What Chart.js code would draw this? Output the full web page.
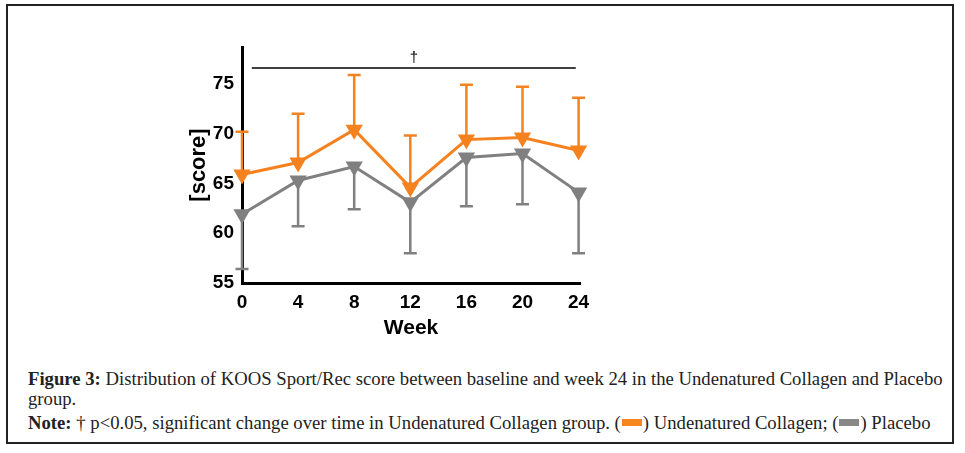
<!DOCTYPE html>
<html>
<head>
<meta charset="utf-8">
<script src="https://cdn.jsdelivr.net/npm/chart.js@4.4.1/dist/chart.umd.min.js"></script>
<style>
  html, body { margin: 0; padding: 0; background: #fff; }
  body { width: 965px; height: 453px; position: relative; overflow: hidden; }
  #frame { position: absolute; left: 6px; top: 4px; width: 948px; height: 440px; border: 2px solid #222; box-sizing: border-box; }
  #wrap { position: absolute; left: 0; top: 0; width: 965px; height: 360px; }
  .cap { position: absolute; left: 28px; font-family: "Liberation Serif", "DejaVu Serif", serif; font-size: 18.7px; color: #222; white-space: nowrap; line-height: 1; }
  .sw { display: inline-block; width: 20px; height: 7px; vertical-align: 3px; margin: 0 1px; }
</style>
</head>
<body>
<div id="frame"></div>
<div id="wrap"><canvas id="c" width="965" height="360"></canvas></div>
<div class="cap" id="l1" style="top:370px"><b>Figure 3:</b> Distribution of KOOS Sport/Rec score between baseline and week 24 in the Undenatured Collagen and Placebo</div>
<div class="cap" id="l2" style="top:390px">group.</div>
<div class="cap" id="l3" style="top:414px"><b>Note:</b> † p&lt;0.05, significant change over time in Undenatured Collagen group. (<span class="sw" style="background:#F7861E"></span>) Undenatured Collagen; (<span class="sw" style="background:#888"></span>) Placebo</div>
<script>
const weeks = [0, 4, 8, 12, 16, 20, 24];
const collagenMean = [65.9, 67.1, 70.4, 64.6, 69.4, 69.6, 68.3];
const collagenUpper = [70.2, 72.0, 75.9, 69.8, 74.9, 74.7, 73.6];
const placeboMean = [61.9, 65.3, 66.7, 63.1, 67.6, 68.0, 64.1];
const placeboLower = [56.4, 60.7, 62.4, 58.0, 62.7, 62.9, 58.0];
const yTicks = [55, 60, 65, 70, 75];
const xTicks = [0, 4, 8, 12, 16, 20, 24];
const sigBar = { from: 0.7, to: 23.8, y: 76.6, label: "†" };

const ORANGE = "#F5821F";
const GRAY = "#808080";

const errorBars = {
  id: "errorBars",
  afterDatasetsDraw(chart) {
    const { ctx, scales: { x, y } } = chart;
    const specs = [
      { means: collagenMean, ends: collagenUpper, color: ORANGE },
      { means: placeboMean, ends: placeboLower, color: GRAY }
    ];
    ctx.save();
    ctx.lineWidth = 2.5;
    specs.forEach(s => {
      ctx.strokeStyle = s.color;
      weeks.forEach((w, i) => {
        const px = x.getPixelForValue(w);
        const p0 = y.getPixelForValue(s.means[i]);
        const p1 = y.getPixelForValue(s.ends[i]);
        ctx.beginPath();
        ctx.moveTo(px, p0); ctx.lineTo(px, p1);
        ctx.moveTo(px - 6.5, p1); ctx.lineTo(px + 6.5, p1);
        ctx.stroke();
      });
    });
    // significance bar
    ctx.strokeStyle = "#000";
    ctx.lineWidth = 1.5;
    const yy = y.getPixelForValue(sigBar.y);
    ctx.beginPath();
    ctx.moveTo(x.getPixelForValue(sigBar.from), yy);
    ctx.lineTo(x.getPixelForValue(sigBar.to), yy);
    ctx.stroke();
    ctx.fillStyle = "#000";
    ctx.font = "15px 'Liberation Sans', Arial, sans-serif";
    ctx.textAlign = "center";
    ctx.textBaseline = "bottom";
    ctx.fillText(sigBar.label, x.getPixelForValue((sigBar.from + sigBar.to) / 2), yy - 3);
    ctx.restore();
  }
};

new Chart(document.getElementById("c"), {
  type: "line",
  data: {
    datasets: [
      {
        label: "Undenatured Collagen",
        data: weeks.map((w, i) => ({ x: w, y: collagenMean[i] })),
        borderColor: ORANGE, backgroundColor: ORANGE,
        borderWidth: 3, pointStyle: "triangle", rotation: 180,
        pointRadius: 7, pointHoverRadius: 7, tension: 0, clip: false
      },
      {
        label: "Placebo",
        data: weeks.map((w, i) => ({ x: w, y: placeboMean[i] })),
        borderColor: GRAY, backgroundColor: GRAY,
        borderWidth: 3, pointStyle: "triangle", rotation: 180,
        pointRadius: 7, pointHoverRadius: 7, tension: 0, clip: false
      }
    ]
  },
  options: {
    responsive: false,
    animation: false,
    events: [],
    layout: { padding: { left: 186, right: 385, top: 47, bottom: 19 } },
    plugins: { legend: { display: false }, tooltip: { enabled: false } },
    scales: {
      x: {
        type: "linear", min: 0, max: 24.1,
        afterBuildTicks: s => { s.ticks = xTicks.map(v => ({ value: v })); },
        afterFit: s => { s.height = 58; },
        grid: { display: false, drawTicks: true, tickLength: 7, tickWidth: 3, tickColor: "#000" },
        border: { color: "#000", width: 3 },
        ticks: { color: "#000", padding: 1, font: { family: "'Liberation Sans', Arial, sans-serif", size: 19, weight: "bold" } },
        title: { display: true, text: "Week", color: "#000", padding: { top: 2, bottom: 0 }, font: { family: "'Liberation Sans', Arial, sans-serif", size: 21, weight: "bold" } }
      },
      y: {
        type: "linear", min: 55, max: 78.7,
        afterBuildTicks: s => { s.ticks = yTicks.map(v => ({ value: v })); },
        afterFit: s => { s.width = 56; },
        grid: { display: false, drawTicks: true, tickLength: 7, tickWidth: 3, tickColor: "#000" },
        border: { color: "#000", width: 3 },
        ticks: { color: "#000", padding: 1, font: { family: "'Liberation Sans', Arial, sans-serif", size: 19, weight: "bold" } },
        title: { display: true, text: "[score]", color: "#000", padding: { top: 0, bottom: 2 }, font: { family: "'Liberation Sans', Arial, sans-serif", size: 22, weight: "bold" } }
      }
    }
  },
  plugins: [errorBars]
});
</script>
</body>
</html>
